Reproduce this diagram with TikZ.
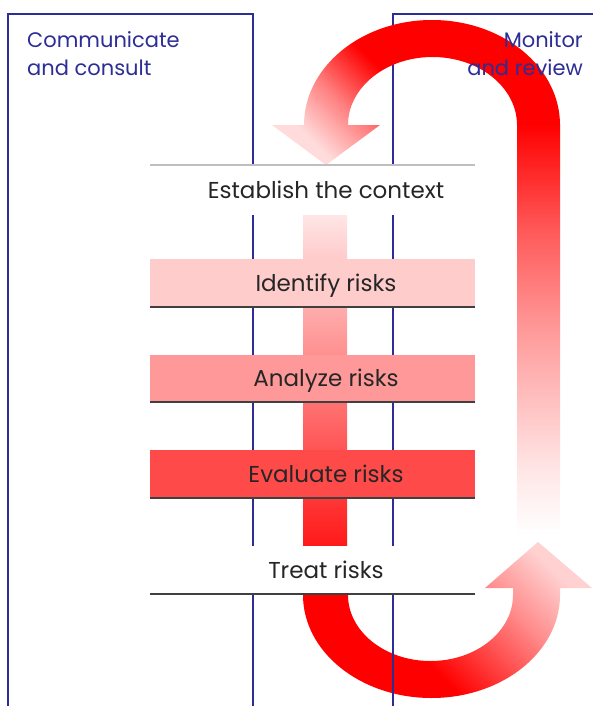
\documentclass[tikz,border=0pt]{standalone}
\usepackage{fontspec}
\setmainfont{Poppins}
\definecolor{navy}{RGB}{45,45,150}
\definecolor{idc}{RGB}{255,204,204}
\definecolor{anc}{RGB}{255,153,153}
\definecolor{evc}{RGB}{255,74,74}
\pgfdeclareverticalshading{topushade}{100bp}{color(0bp)=(red!14); color(25bp)=(red!14); color(36bp)=(red!50); color(48bp)=(red); color(100bp)=(red)}
\pgfdeclareverticalshading{botushade}{100bp}{color(0bp)=(red); color(40bp)=(red); color(62bp)=(red!45); color(75bp)=(red!18); color(100bp)=(red!18)}
\pgfdeclareverticalshading{legshade}{100bp}{color(0bp)=(white); color(25bp)=(white); color(33bp)=(red!10); color(50bp)=(red!40); color(62bp)=(red!65); color(75bp)=(red); color(100bp)=(red)}
\begin{document}
\begin{tikzpicture}[x=1pt,y=-1pt,
  boxline/.style={draw=navy, line width=1.2pt},
  bandline/.style={draw=black!75, line width=1.5pt},
  steplabel/.style={anchor=base, font=\fontsize{23}{27}\selectfont, text=black!85, inner sep=0pt},
  bluelabel/.style={font=\fontsize{21}{25}\selectfont, text=navy, inner sep=0pt}]
\useasboundingbox (0,0) rectangle (593,706);
% blue boxes
\draw[boxline] (8,706) -- (8,14) -- (253,14) -- (253,706);
\draw[boxline] (594,14) -- (393,14) -- (393,706);
% top U-turn arrow
\shade[shading=topushade, shading angle=-45]
  (304,125) arc[start angle=180, end angle=360, x radius=128, y radius=105]
  -- (517,125) arc[start angle=360, end angle=180, x radius=84.5, y radius=68]
  -- (380,125) -- (326,165) -- (272,125) -- cycle;
\shade[shading=legshade] (517,124) rectangle (560,535);
% central bar
\shade[top color=red!10, bottom color=red!90] (303,215) rectangle (347,546);
% bands
\fill[white] (150,165) rectangle (475,215);
\draw[draw=black!25, line width=1.2pt] (150,165) -- (475,165);
\fill[idc] (150,259) rectangle (475,307);
\draw[bandline] (150,307) -- (475,307);
\fill[anc] (150,355) rectangle (475,402);
\draw[bandline] (150,402) -- (475,402);
\fill[evc] (150,450) rectangle (475,498);
\draw[bandline] (150,498) -- (475,498);
\fill[white] (150,546) rectangle (475,594);
\draw[bandline] (150,594) -- (475,594);
% bottom U-turn arrow
\shade[shading=botushade, shading angle=-45]
  (303,595) arc[start angle=180, end angle=0, x radius=128.5, y radius=103]
  -- (560,588) -- (592,588) -- (538,542) -- (485,588) -- (513,588) -- (513,595)
  arc[start angle=0, end angle=180, x radius=82.5, y radius=66] -- cycle;
\draw[boxline] (393,595) -- (393,706);
% labels
\node[steplabel] (establish) at (326,198) {Establish the context};
\node[steplabel] (identify) at (326,291) {Identify risks};
\node[steplabel] (analyze) at (326,386) {Analyze risks};
\node[steplabel] (evaluate) at (326,482) {Evaluate risks};
\node[steplabel] (treat) at (326,578) {Treat risks};
\node[bluelabel, anchor=base west] (comm1) at (27,48) {Communicate};
\node[bluelabel, anchor=base west] (comm2) at (27,76) {and consult};
\node[bluelabel, anchor=base east] (mon1) at (583,48) {Monitor};
\node[bluelabel, anchor=base east] (mon2) at (583,76) {and review};
\end{tikzpicture}
\end{document}
